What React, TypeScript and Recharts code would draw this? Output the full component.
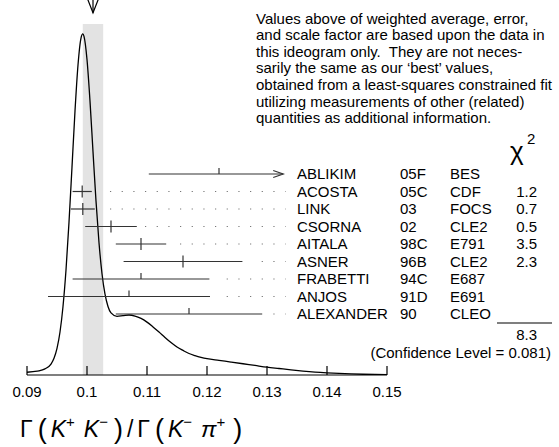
import React from "react";
import {
  ComposedChart,
  Line,
  Scatter,
  XAxis,
  YAxis,
  ReferenceArea,
  ReferenceLine,
} from "recharts";

const FONT = "'Liberation Sans', Arial, Helvetica, sans-serif";

// ideogram curve: position and height (% of the peak)
const curveX = [
  0.09, 0.091, 0.092, 0.093, 0.094, 0.0945, 0.095, 0.0955, 0.096, 0.0965,
  0.097, 0.0975, 0.098, 0.0985, 0.099, 0.0993, 0.0995, 0.1, 0.1005, 0.101,
  0.1015, 0.102, 0.1025, 0.103, 0.1035, 0.104, 0.105, 0.106, 0.107, 0.108,
  0.109, 0.11, 0.111, 0.112, 0.113, 0.114, 0.115, 0.116, 0.117, 0.118,
  0.119, 0.12, 0.122, 0.124, 0.126, 0.128, 0.13, 0.132, 0.134, 0.136,
  0.138, 0.14, 0.142, 0.144, 0.146, 0.148, 0.15,
];
const curveH = [
  0.8, 1.0, 1.2, 1.8, 3.2, 4.9, 7.8, 12.6, 20.1, 30.8,
  44.8, 61.0, 77.4, 90.9, 98.8, 100, 99.3, 92.5, 80.3, 65.5,
  51.0, 38.8, 29.7, 23.7, 20.1, 18.2, 17.2, 17.4, 17.6, 17.3,
  16.6, 15.5, 14.1, 12.6, 11.0, 9.5, 8.2, 7.2, 6.3, 5.7,
  5.2, 4.8, 4.3, 3.8, 3.3, 2.8, 2.3, 1.9, 1.5, 1.15,
  0.86, 0.64, 0.46, 0.32, 0.22, 0.15, 0.1,
];

// measurements, top to bottom
const names = ["ABLIKIM", "ACOSTA", "LINK", "CSORNA", "AITALA", "ASNER", "FRABETTI", "ANJOS", "ALEXANDER"];
const years = ["05F", "05C", "03", "02", "98C", "96B", "94C", "91D", "90"];
const experiments = ["BES", "CDF", "FOCS", "CLE2", "E791", "CLE2", "E687", "E691", "CLEO"];
const values = [0.122, 0.0992, 0.0993, 0.104, 0.109, 0.116, 0.109, 0.107, 0.117];
const errors = [0.0117, 0.0016, 0.002, 0.0043, 0.0042, 0.0099, 0.0114, 0.0135, 0.0122];
const chi2 = ["", "1.2", "0.7", "0.5", "3.5", "2.3", "", "", ""];
const barClip = 0.1327; // error bars are cut here (arrow)

const average = 0.101;
const averageError = 0.0017;
const chi2Total = "8.3";
const confidence = "0.081";

const xTicks = [0.09, 0.1, 0.11, 0.12, 0.13, 0.14, 0.15];

const noteLines = [
  "Values above of weighted average, error,",
  "and scale factor are based upon the data in",
  "this ideogram only.  They are not neces-",
  "sarily the same as our \u2018best\u2019 values,",
  "obtained from a least-squares constrained fit",
  "utilizing measurements of other (related)",
  "quantities as additional information.",
];

const W = 559;
const H = 447;
const Y_MAX = 108.2;
const ROW_LO = -3.486;
const ROW_HI = 17.6;
const TICK_MARGIN = 11;
const DOT0 = 0.10383;
const DOT_STEP = 0.001945;
const DOT_END = 0.1331;
const BAR = "#333";

const curve = curveX.map((x, i) => ({ x, h: curveH[i] }));

const rows = names.map((name, i) => {
  const hiRaw = values[i] + errors[i];
  const clipped = hiRaw > barClip;
  const hi = clipped ? barClip : hiRaw;
  const k = Math.max(0, Math.ceil((hi + 0.00133 - DOT0) / DOT_STEP - 0.02));
  return {
    name,
    year: years[i],
    exp: experiments[i],
    chi2: chi2[i],
    x: values[i],
    row: names.length - 1 - i,
    lo: values[i] - errors[i],
    hi,
    clipped,
    dotStart: DOT0 + k * DOT_STEP,
    inFit: chi2[i] !== "",
  };
});

const barShape = (clipped: boolean) => (p: any) => (
  <g>
    <line x1={p.x1} y1={p.y1} x2={p.x2} y2={p.y2} stroke={BAR} strokeWidth={1.2} />
    {clipped && (
      <polyline
        points={`${p.x2 - 10},${p.y2 - 3.5} ${p.x2},${p.y2} ${p.x2 - 10},${p.y2 + 3.5}`}
        fill="none"
        stroke={BAR}
        strokeWidth={1.2}
      />
    )}
  </g>
);

const averageArrow = (p: any) => (
  <g stroke="#000" strokeWidth={1.2} fill="none">
    <line x1={p.x1} y1={p.y1} x2={p.x2} y2={p.y2} />
    <polyline points={`${p.x2 - 5.5},${p.y2 - 14} ${p.x2},${p.y2} ${p.x2 + 5.5},${p.y2 - 14}`} />
  </g>
);

const TickMark = (p: any) => {
  const { cx, cy, payload } = p;
  return (
    <line
      x1={cx}
      x2={cx}
      y1={cy - 6}
      y2={payload.inFit ? cy + 6 : cy}
      stroke={BAR}
      strokeWidth={1.2}
    />
  );
};

const XTick = (p: any) => {
  const { x, y, payload } = p;
  const axisY = y - TICK_MARGIN;
  return (
    <g>
      <line x1={x} x2={x} y1={axisY} y2={axisY - 9} stroke="#000" strokeWidth={1.2} />
      <text x={x} y={y} dy="0.71em" textAnchor="middle" fontFamily={FONT} fontSize={15} fill="#000">
        {String(payload.value)}
      </text>
    </g>
  );
};

const RowLabel = (p: any) => {
  const r = rows.find((d) => d.row === p.payload.value);
  if (!r) return null;
  const y = p.y;
  const t = { y, dy: "0.35em", fontFamily: FONT, fontSize: 15, fill: "#000" };
  return (
    <g>
      <text x={297} {...t}>{r.name}</text>
      <text x={400} {...t}>{r.year}</text>
      <text x={450} {...t}>{r.exp}</text>
      {r.chi2 && (
        <text x={537} textAnchor="end" {...t}>
          {r.chi2}
        </text>
      )}
    </g>
  );
};

export default function App() {
  return (
    <div style={{ position: "absolute", left: 0, top: 0, width: W, height: H, background: "#fff" }}>
      <ComposedChart width={W} height={H} margin={{ top: 6, right: 0, bottom: 42, left: 27 }}>
        <XAxis
          dataKey="x"
          type="number"
          domain={[0.09, 0.15]}
          allowDataOverflow
          ticks={xTicks}
          interval={0}
          tickSize={0}
          tickMargin={TICK_MARGIN}
          tickLine={false}
          tick={(p: any) => <XTick {...p} />}
          axisLine={{ stroke: "#000", strokeWidth: 1.2 }}
          height={30}
        />
        <YAxis
          yAxisId="curve"
          dataKey="h"
          type="number"
          domain={[0, Y_MAX]}
          allowDataOverflow
          width={0}
          tick={false}
          tickLine={false}
          axisLine={{ stroke: "#000", strokeWidth: 1.2 }}
        />
        <YAxis
          yAxisId="rows"
          orientation="right"
          dataKey="row"
          type="number"
          domain={[ROW_LO, ROW_HI]}
          allowDataOverflow
          ticks={[0, 1, 2, 3, 4, 5, 6, 7, 8]}
          interval={0}
          width={172}
          axisLine={false}
          tickLine={false}
          tick={(p: any) => <RowLabel {...p} />}
        />
        <ReferenceArea
          yAxisId="curve"
          x1={average - averageError}
          x2={average + averageError}
          y1={0}
          y2={102.9}
          fill="#e3e3e3"
          fillOpacity={1}
          stroke="none"
        />
        <Line
          yAxisId="curve"
          data={curve}
          dataKey="h"
          type="monotone"
          stroke="#000"
          strokeWidth={1.3}
          dot={false}
          isAnimationActive={false}
        />
        <ReferenceLine
          yAxisId="curve"
          segment={[{ x: average, y: 112 }, { x: average, y: 106.2 }]}
          ifOverflow="visible"
          stroke="#000"
          shape={averageArrow}
        />
        {rows.map((r) => (
          <ReferenceLine
            key={"bar" + r.name}
            yAxisId="rows"
            segment={[{ x: r.lo, y: r.row }, { x: r.hi, y: r.row }]}
            ifOverflow="visible"
            stroke={BAR}
            shape={barShape(r.clipped)}
          />
        ))}
        {rows
          .filter((r) => !r.clipped)
          .map((r) => (
            <ReferenceLine
              key={"dots" + r.name}
              yAxisId="rows"
              segment={[{ x: r.dotStart, y: r.row }, { x: DOT_END, y: r.row }]}
              ifOverflow="visible"
              stroke="#777"
              strokeWidth={1.2}
              strokeDasharray="1.2 10.47"
            />
          ))}
        <Scatter
          yAxisId="rows"
          data={rows}
          shape={TickMark}
          isAnimationActive={false}
        />
      </ComposedChart>

      <svg width={W} height={H} style={{ position: "absolute", left: 0, top: 0 }}>
        <g fontFamily={FONT} fontSize={15} fill="#000">
          {noteLines.map((s, i) => (
            <text key={i} x={256} y={18.3 + 16.6 * i} dy="0.35em" style={{ whiteSpace: "pre" }}>
              {s}
            </text>
          ))}
          <text x={510} y={160} fontSize={26}>χ</text>
          <text x={527} y={144} fontSize={15}>2</text>
          <line x1={497} x2={552} y1={323} y2={323} stroke="#000" strokeWidth={1.2} />
          <text x={537} y={335} dy="0.35em" textAnchor="end">{chi2Total}</text>
          <text x={551} y={353} dy="0.35em" textAnchor="end">
            {`(Confidence Level = ${confidence})`}
          </text>
        </g>
        <text x={20} y={437} fontFamily={FONT} fontSize={23} fill="#000">
          <tspan>Γ</tspan>
          <tspan fontSize={27} dy={1} dx={5}>(</tspan>
          <tspan fontStyle="italic" dy={-1} dx={4}>K</tspan>
          <tspan fontSize={15} dy={-10}>+</tspan>
          <tspan fontStyle="italic" dy={10} dx={9}>K</tspan>
          <tspan fontSize={15} dy={-10}>−</tspan>
          <tspan fontSize={27} dy={11} dx={6}>)</tspan>
          <tspan dy={-1} dx={4}>/</tspan>
          <tspan dx={4}>Γ</tspan>
          <tspan fontSize={27} dy={1} dx={5}>(</tspan>
          <tspan fontStyle="italic" dy={-1} dx={4}>K</tspan>
          <tspan fontSize={15} dy={-10}>−</tspan>
          <tspan fontStyle="italic" dy={10} dx={9}>π</tspan>
          <tspan fontSize={15} dy={-10}>+</tspan>
          <tspan fontSize={27} dy={11} dx={8}>)</tspan>
        </text>
      </svg>
    </div>
  );
}
